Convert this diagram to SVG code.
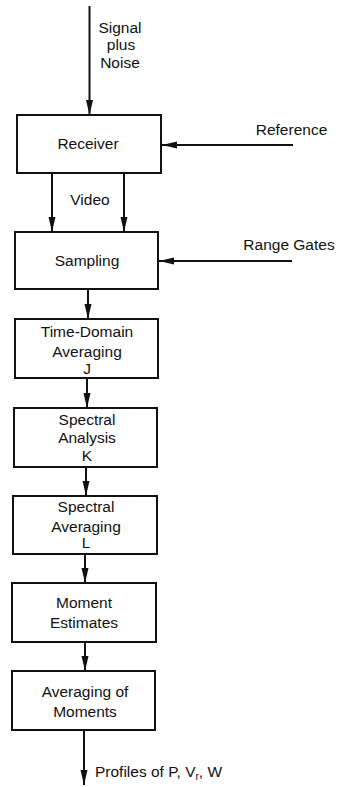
<svg xmlns="http://www.w3.org/2000/svg" width="338" height="787" viewBox="0 0 338 787">
<style>
  .box { fill: #ffffff; stroke: #111111; stroke-width: 2; }
  .lbl { font-family: "Liberation Sans", Arial, sans-serif; font-size: 15.5px; fill: #111111; text-anchor: middle; }
  .edge { stroke: #111111; stroke-width: 2; fill: none; marker-end: url(#ah); }
</style>
<defs>
  <marker id="ah" markerUnits="userSpaceOnUse" markerWidth="16" markerHeight="8" refX="15" refY="3.5" orient="auto">
    <path d="M0,0 L15,3.5 L0,7 z" fill="#111111"/>
  </marker>
</defs>
<rect width="338" height="787" fill="#ffffff"/>
<g id="connectors">
  <line class="edge" x1="89.5" y1="6" x2="89.5" y2="115"/>
  <line class="edge" x1="293" y1="145" x2="162" y2="145"/>
  <line class="edge" x1="52" y1="173" x2="52" y2="232"/>
  <line class="edge" x1="124" y1="173" x2="124" y2="232"/>
  <line class="edge" x1="292" y1="261" x2="159" y2="261"/>
  <line class="edge" x1="88" y1="289" x2="88" y2="319"/>
  <line class="edge" x1="87" y1="378" x2="87" y2="408"/>
  <line class="edge" x1="86" y1="467" x2="86" y2="496"/>
  <line class="edge" x1="85" y1="554" x2="85" y2="583"/>
  <line class="edge" x1="85" y1="642" x2="85" y2="671"/>
  <line class="edge" x1="84" y1="730" x2="84" y2="785"/>
</g>
<g id="labels">
  <text class="lbl" x="120" y="33">Signal</text>
  <text class="lbl" x="121" y="50">plus</text>
  <text class="lbl" x="120" y="68">Noise</text>
  <text class="lbl" x="291.5" y="135">Reference</text>
  <text class="lbl" x="90" y="205">Video</text>
  <text class="lbl" x="289" y="250">Range Gates</text>
  <text class="lbl" x="95" y="777" style="text-anchor:start">Profiles of P, V<tspan font-size="10" dy="3">r</tspan><tspan dy="-3">, W</tspan></text>
</g>
<g id="receiver">
  <rect class="box" x="17" y="115" width="144" height="58"/>
  <text class="lbl" x="88" y="149">Receiver</text>
</g>
<g id="sampling">
  <rect class="box" x="15" y="232" width="143" height="57"/>
  <text class="lbl" x="87" y="266">Sampling</text>
</g>
<g id="time-domain-averaging">
  <rect class="box" x="15" y="319" width="143" height="59"/>
  <text class="lbl" x="87" y="337">Time-Domain</text>
  <text class="lbl" x="87" y="357">Averaging</text>
  <text class="lbl" x="87" y="374">J</text>
</g>
<g id="spectral-analysis">
  <rect class="box" x="14" y="408" width="143" height="59"/>
  <text class="lbl" x="87" y="425">Spectral</text>
  <text class="lbl" x="87" y="443">Analysis</text>
  <text class="lbl" x="87" y="461">K</text>
</g>
<g id="spectral-averaging">
  <rect class="box" x="13" y="496" width="144" height="58"/>
  <text class="lbl" x="86" y="512">Spectral</text>
  <text class="lbl" x="86" y="532">Averaging</text>
  <text class="lbl" x="86" y="548">L</text>
</g>
<g id="moment-estimates">
  <rect class="box" x="12" y="583" width="144" height="59"/>
  <text class="lbl" x="84" y="608">Moment</text>
  <text class="lbl" x="84" y="628">Estimates</text>
</g>
<g id="averaging-of-moments">
  <rect class="box" x="12" y="671" width="143" height="59"/>
  <text class="lbl" x="85" y="697">Averaging of</text>
  <text class="lbl" x="85" y="717">Moments</text>
</g>
</svg>
